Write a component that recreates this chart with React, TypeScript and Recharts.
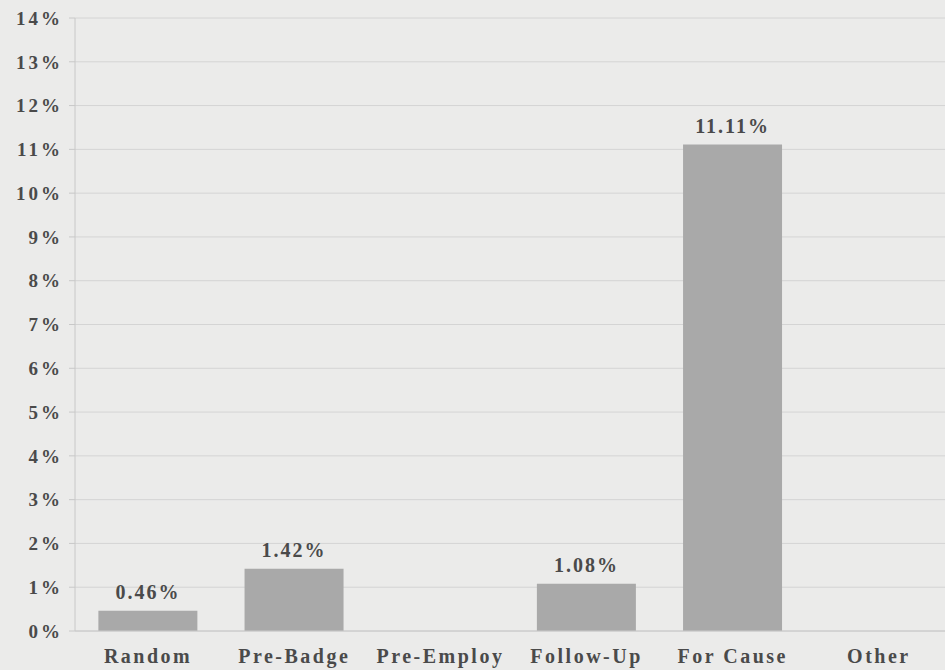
import React from "react";
import { BarChart, Bar, XAxis, YAxis, CartesianGrid, LabelList } from "recharts";

const categories = ["Random", "Pre-Badge", "Pre-Employ", "Follow-Up", "For Cause", "Other"];
const rates = [0.46, 1.42, 0, 1.08, 11.11, 0];
const valueLabels = ["0.46%", "1.42%", "", "1.08%", "11.11%", ""];
const yTicks = [0, 1, 2, 3, 4, 5, 6, 7, 8, 9, 10, 11, 12, 13, 14];

const data = categories.map((c, i) => ({ name: c, value: rates[i], label: valueLabels[i] }));

const font = "'Liberation Serif', 'DejaVu Serif', serif";

export default function App() {
  return (
    <div style={{ position: "absolute", left: 0, top: 0, width: 945, height: 670, background: "#ebebea", overflow: "hidden" }}>
      <BarChart width={952} height={670} data={data} margin={{ top: 18, right: 0, bottom: 0, left: 0 }} barCategoryGap="16%">
        <CartesianGrid vertical={false} stroke="#d4d4d4" strokeWidth={1} />
        <XAxis
          dataKey="name"
          height={39}
          axisLine={{ stroke: "#c8c8c8" }}
          tickLine={false}
          interval={0}
          tick={{ fill: "#4a4a4a", fontFamily: font, fontWeight: "bold", fontSize: 20, letterSpacing: 2.5 }}
          tickMargin={12}
        />
        <YAxis
          width={75}
          domain={[0, 14]}
          ticks={yTicks}
          interval={0}
          tickFormatter={(v) => `${v}%`}
          axisLine={{ stroke: "#c8c8c8" }}
          tickLine={{ stroke: "#c8c8c8" }}
          tickSize={6}
          tickMargin={6}
          tick={{ fill: "#4a4a4a", fontFamily: font, fontWeight: "bold", fontSize: 19, letterSpacing: 3 }}
        />
        <Bar dataKey="value" fill="#a9a9a9" isAnimationActive={false}>
          <LabelList
            dataKey="label"
            position="top"
            offset={12}
            style={{ fill: "#4a4a4a", fontFamily: font, fontWeight: "bold", fontSize: 20, letterSpacing: 2 }}
          />
        </Bar>
      </BarChart>
    </div>
  );
}
